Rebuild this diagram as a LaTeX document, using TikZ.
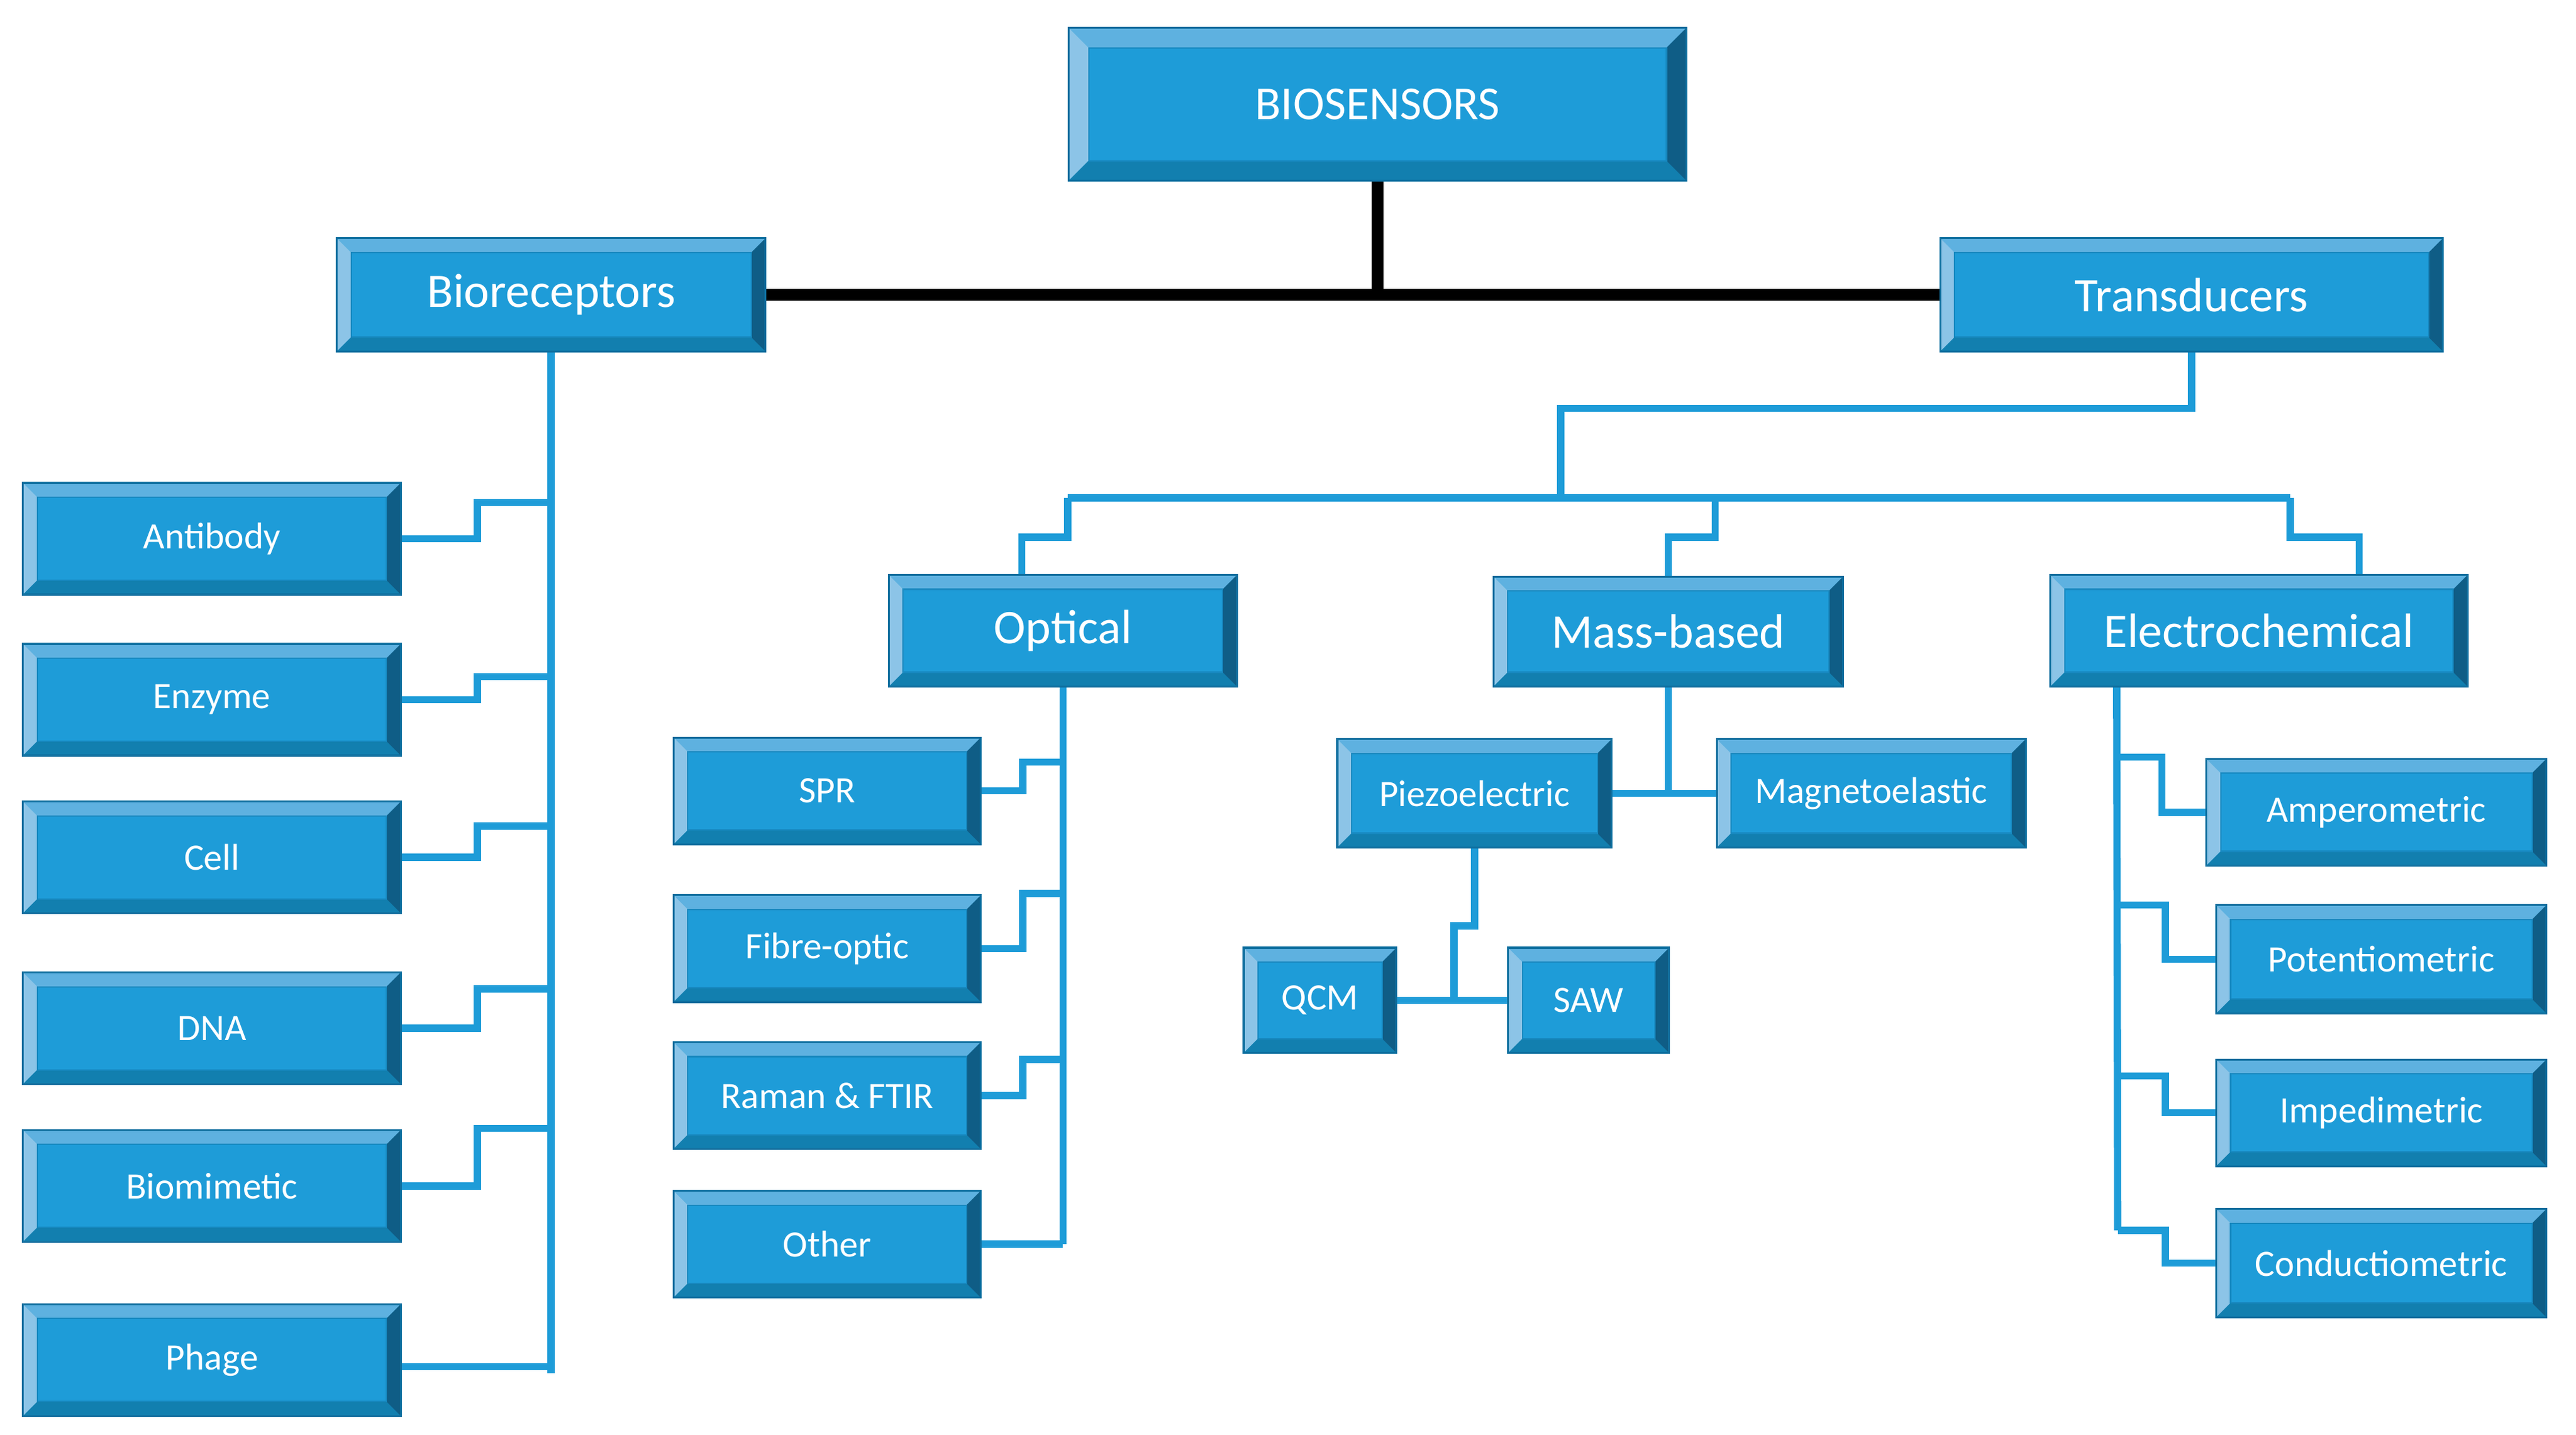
\documentclass[tikz,border=0pt]{standalone}
\usepackage{fontspec}
\setmainfont{Carlito}
\usetikzlibrary{calc}

\definecolor{faceblue}{HTML}{1E9CD8}
\definecolor{edgeblue}{HTML}{0E6F9F}
\definecolor{bevtop}{HTML}{5EB1E0}
\definecolor{bevleft}{HTML}{8CC4E7}
\definecolor{bevbot}{HTML}{127FAF}
\definecolor{bevright}{HTML}{0F5D86}
\definecolor{faceline}{HTML}{1788BF}

\newcommand{\smallfont}{\fontsize{17}{20}\selectfont}
\newcommand{\bigfont}{\fontsize{22}{26}\selectfont}

\tikzset{
  bev/.store in=\bevlen,
  bev=0.23cm,
  sz/.style 2 args={minimum width=#1*0.02633cm, minimum height=#2*0.02633cm},
  bevbox/.style={rectangle, draw=edgeblue, line width=0.9pt, fill=faceblue,
    text=white, inner sep=0pt, font=\smallfont,
    path picture={
      \coordinate (pnw) at (path picture bounding box.north west);
      \coordinate (pne) at (path picture bounding box.north east);
      \coordinate (psw) at (path picture bounding box.south west);
      \coordinate (pse) at (path picture bounding box.south east);
      \fill[bevtop] (pnw) -- (pne) -- ([shift={(-\bevlen,-\bevlen)}]pne)
        -- ([shift={(\bevlen,-\bevlen)}]pnw) -- cycle;
      \fill[bevleft] (pnw) -- ([shift={(\bevlen,-\bevlen)}]pnw)
        -- ([shift={(\bevlen,\bevlen)}]psw) -- (psw) -- cycle;
      \fill[bevbot] (psw) -- (pse) -- ([shift={(-\bevlen,\bevlen)}]pse)
        -- ([shift={(\bevlen,\bevlen)}]psw) -- cycle;
      \fill[bevright] (pne) -- (pse) -- ([shift={(-\bevlen,\bevlen)}]pse)
        -- ([shift={(-\bevlen,-\bevlen)}]pne) -- cycle;
      \draw[faceline, line width=0.6pt] ([shift={(\bevlen,-\bevlen)}]pnw)
        rectangle ([shift={(-\bevlen,\bevlen)}]pse);
    }},
  midbox/.style={bevbox, font=\bigfont},
  topbox/.style={bevbox, bev=0.32cm, font=\fontsize{21.6}{25}\selectfont},
  link/.style={draw=faceblue, line width=3.3pt, line join=miter},
  mainline/.style={draw=black, line width=5.5pt}
}

\begin{document}
\begin{tikzpicture}[x=0.02633cm, y=-0.02633cm]
  \useasboundingbox (0,0) rectangle (1568,873.5);

  % top levels
  \node (bio) at (838.5,63.5) [topbox, sz={376}{93}] {BIOSENSORS};
  \node (brec) at (335.5,179.5) [midbox, sz={261}{69}] {Bioreceptors};
  \node (trans) at (1334,179.5) [midbox, sz={306}{69}] {Transducers};
  \node (opt) at (647,384) [midbox, sz={212}{68}] {Optical};
  \node (mass) at (1015.5,384.5) [midbox, sz={213}{67}] {Mass-based};
  \node (elec) at (1375,384) [midbox, sz={254}{68}] {Electrochemical};

  % bioreceptors
  \node (ab) at (129,328) [bevbox, sz={230}{68}] {Antibody};
  \node (enz) at (129,426) [bevbox, sz={230}{68}] {Enzyme};
  \node (cell) at (129,522) [bevbox, sz={230}{68}] {Cell};
  \node (dna) at (129,626) [bevbox, sz={230}{68}] {DNA};
  \node (bmim) at (129,722) [bevbox, sz={230}{68}] {Biomimetic};
  \node (phage) at (129,828) [bevbox, sz={230}{68}] {Phage};

  % optical
  \node (spr) at (503.5,481.5) [bevbox, sz={187}{65}] {SPR};
  \node (fibre) at (503.5,577.5) [bevbox, sz={187}{65}] {Fibre-optic};
  \node (raman) at (503.5,667) [bevbox, sz={187}{65}] {Raman \& FTIR};
  \node (other) at (503.5,757.5) [bevbox, sz={187}{65}] {Other};

  % mass-based
  \node (piezo) at (897.5,483) [bevbox, sz={167}{66}] {Piezoelectric};
  \node (magneto) at (1139,483) [bevbox, sz={188}{66}] {Magnetoelastic};
  \node (qcm) at (803.5,609) [bevbox, sz={93}{64}] {QCM};
  \node (saw) at (967,609) [bevbox, sz={98}{64}] {SAW};

  % electrochemical
  \node (amp) at (1446.5,494.5) [bevbox, sz={207}{65}] {Amperometric};
  \node (pot) at (1449.5,584) [bevbox, sz={201}{66}] {Potentiometric};
  \node (imp) at (1449.5,677.5) [bevbox, sz={201}{65}] {Impedimetric};
  \node (cond) at (1449.5,769) [bevbox, sz={201}{66}] {Conductiometric};

  % junctions
  \coordinate (jab) at (335.5,306);
  \coordinate (jenz) at (335.5,412);
  \coordinate (jcell) at (335.5,503);
  \coordinate (jdna) at (335.5,602);
  \coordinate (jbmim) at (335.5,687);
  \coordinate (jphage) at (335.5,832);
  \coordinate (jspr) at (647,464);
  \coordinate (jfibre) at (647,544);
  \coordinate (jraman) at (647,645);
  \coordinate (tmid) at (950,303);
  \coordinate (tleft) at (650,303);
  \coordinate (tmass) at (1044,303);
  \coordinate (tright) at (1394,303);
  \coordinate (etop) at ($(elec.south west)+(41,0)$);
  \coordinate (jamp) at (1289,461);
  \coordinate (jpot) at (1289,551);
  \coordinate (jimp) at (1289,655);
  \coordinate (jcond) at (1289,749);
  \coordinate (jqs) at (885,609);

  % main split
  \draw[mainline] (bio.south) -- (bio.south |- brec.east);
  \draw[mainline] (brec.east) -- (trans.west);

  % bioreceptor links
  \draw[link] (brec.south) -- ($(jphage)+(0,4)$);
  \draw[link] (ab.east) -- ++(46,0) |- (jab);
  \draw[link] (enz.east) -- ++(46,0) |- (jenz);
  \draw[link] (cell.east) -- ++(46,0) |- (jcell);
  \draw[link] (dna.east) -- ++(46,0) |- (jdna);
  \draw[link] (bmim.east) -- ++(46,0) |- (jbmim);
  \draw[link] (phage.east |- jphage) -- (jphage);

  % transducer links
  \draw[link] (trans.south) -- ++(0,34) -| (tmid);
  \draw[link] (tleft) -- (tright);
  \draw[link] (tleft) -- ++(0,24) -| ($(opt.north)+(-25,0)$);
  \draw[link] (tmass) -- ++(0,24) -| (mass.north);
  \draw[link] (tright) -- ++(0,24) -| ($(elec.north)+(61,0)$);

  % optical links
  \draw[link] (opt.south) -- (opt.south |- other.east);
  \draw[link] (spr.east) -- ++(25,0) |- (jspr);
  \draw[link] (fibre.east) -- ++(25,0) |- (jfibre);
  \draw[link] (raman.east) -- ++(25,0) |- (jraman);
  \draw[link] (other.east) -- (opt.south |- other.east);

  % mass-based links
  \draw[link] (mass.south) -- (mass.south |- piezo.east);
  \draw[link] (piezo.east) -- (magneto.west);
  \draw[link] (piezo.south) -- ++(0,47) -| (jqs);
  \draw[link] (qcm.east) -- (saw.west);

  % electrochemical links
  \draw[link] (etop) -- (jcond);
  \draw[link] (jamp) -- ++(27,0) |- (amp.west);
  \draw[link] (jpot) -- ++(29,0) |- (pot.west);
  \draw[link] (jimp) -- ++(29,0) |- (imp.west);
  \draw[link] (jcond) -- ++(29,0) |- (cond.west);
\end{tikzpicture}
\end{document}
